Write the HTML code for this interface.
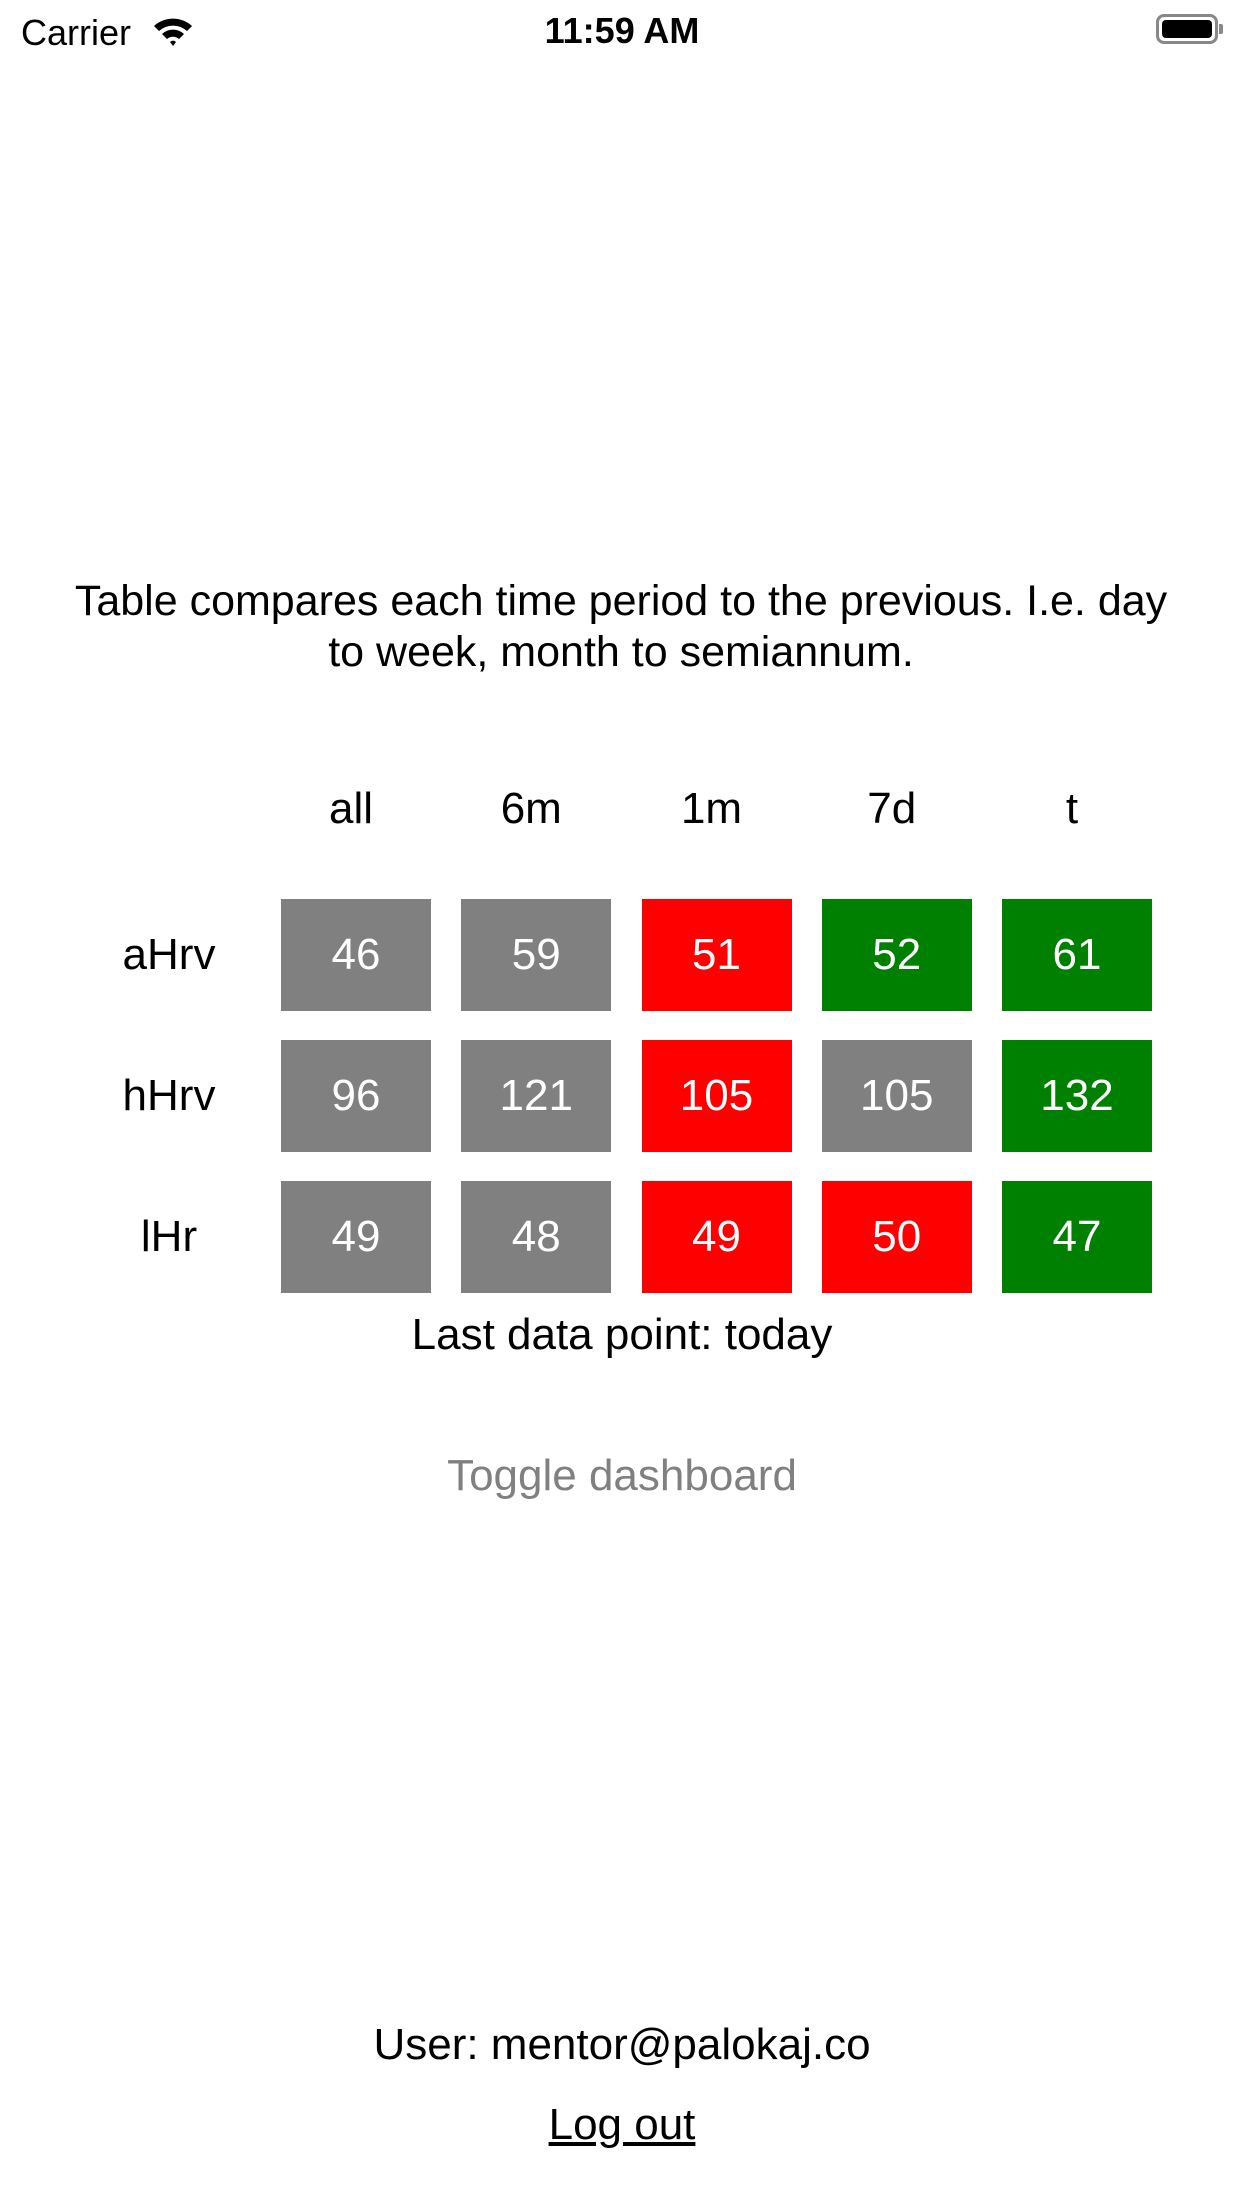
<!DOCTYPE html>
<html><head><meta charset="utf-8"><style>
body{margin:0;width:1242px;height:2208px;background:#fff;font-family:"Liberation Sans",Arial,sans-serif;position:relative;overflow:hidden;color:#000}
.a{position:absolute}
.c{position:absolute;transform:translate(-50%,-50%);white-space:nowrap}
.cell{position:absolute;width:150px;height:112px;color:#fff;font-size:44px;display:flex;align-items:center;justify-content:center}
</style></head><body>
<div class="a" style="left:21px;top:12px;font-size:36px">Carrier</div>
<svg class="a" style="left:152px;top:14px" width="42" height="34" viewBox="0 0 42 34"><path d="M2 12 A28 28 0 0 1 40 12 L35 17 A21 21 0 0 0 7 17Z M10 20 A16 16 0 0 1 32 20 L27 25 A9 9 0 0 0 15 25Z M18 28 A4 4 0 0 1 24 28 L21 32Z" fill="#000"/></svg>
<div class="c" style="left:622px;top:31px;font-size:36px;font-weight:bold">11:59 AM</div>
<div class="a" style="left:1156px;top:14px;width:62px;height:30px;border:3px solid #888;border-radius:8px;box-sizing:border-box;padding:3px"><div style="background:#000;width:100%;height:100%;border-radius:4px"></div></div>
<div class="a" style="left:1219px;top:24px;width:4px;height:10px;background:#888;border-radius:0 2px 2px 0"></div>

<div class="a" style="left:66px;width:1110px;top:576px;text-align:center;font-size:43px;line-height:51px">Table compares each time period to the previous. I.e. day to week, month to semiannum.</div>

<div id="table"></div>

<div class="c" style="left:622px;top:1335px;font-size:44px">Last data point: today</div>
<div class="c" style="left:622px;top:1476px;font-size:44px;color:#808080">Toggle dashboard</div>
<div class="c" style="left:622px;top:2045px;font-size:44px">User: mentor@palokaj.co</div>
<div class="c" style="left:622px;top:2125px;font-size:44px;text-decoration:underline">Log out</div>

<script>
const columns=["all","6m","1m","7d","t"];
const rows=["aHrv","hHrv","lHr"];
const aHrv=[46,59,51,52,61];
const hHrv=[96,121,105,105,132];
const lHr=[49,48,49,50,47];
const aHrvStatus=["n","n","d","u","u"];
const hHrvStatus=["n","n","d","n","u"];
const lHrStatus=["n","n","d","d","u"];
const values=[aHrv,hHrv,lHr];
const statuses=[aHrvStatus,hHrvStatus,lHrStatus];
const colorOf={n:"#808080",d:"#ff0000",u:"#008000"};
const t=document.getElementById('table');
const colX=i=>281+i*180.25;
const rowY=j=>899+j*141;
columns.forEach((c,i)=>{
  const h=document.createElement('div');
  h.className='c';
  
  
  h.style.left=(colX(i)+70)+'px';h.style.top='809px';h.style.fontSize='44px';
  h.textContent=c;t.appendChild(h);
});
rows.forEach((r,j)=>{
  const l=document.createElement('div');
  l.className='c';
  
  
  l.style.left='169px';l.style.top=(rowY(j)+56)+'px';l.style.fontSize='44px';
  l.textContent=r;t.appendChild(l);
  values[j].forEach((v,i)=>{
    const d=document.createElement('div');
    d.className='cell';
    
    
    d.style.left=colX(i)+'px';d.style.top=rowY(j)+'px';
    d.style.background=colorOf[statuses[j][i]];
    d.textContent=v;t.appendChild(d);
  });
});
</script>
</body></html>
